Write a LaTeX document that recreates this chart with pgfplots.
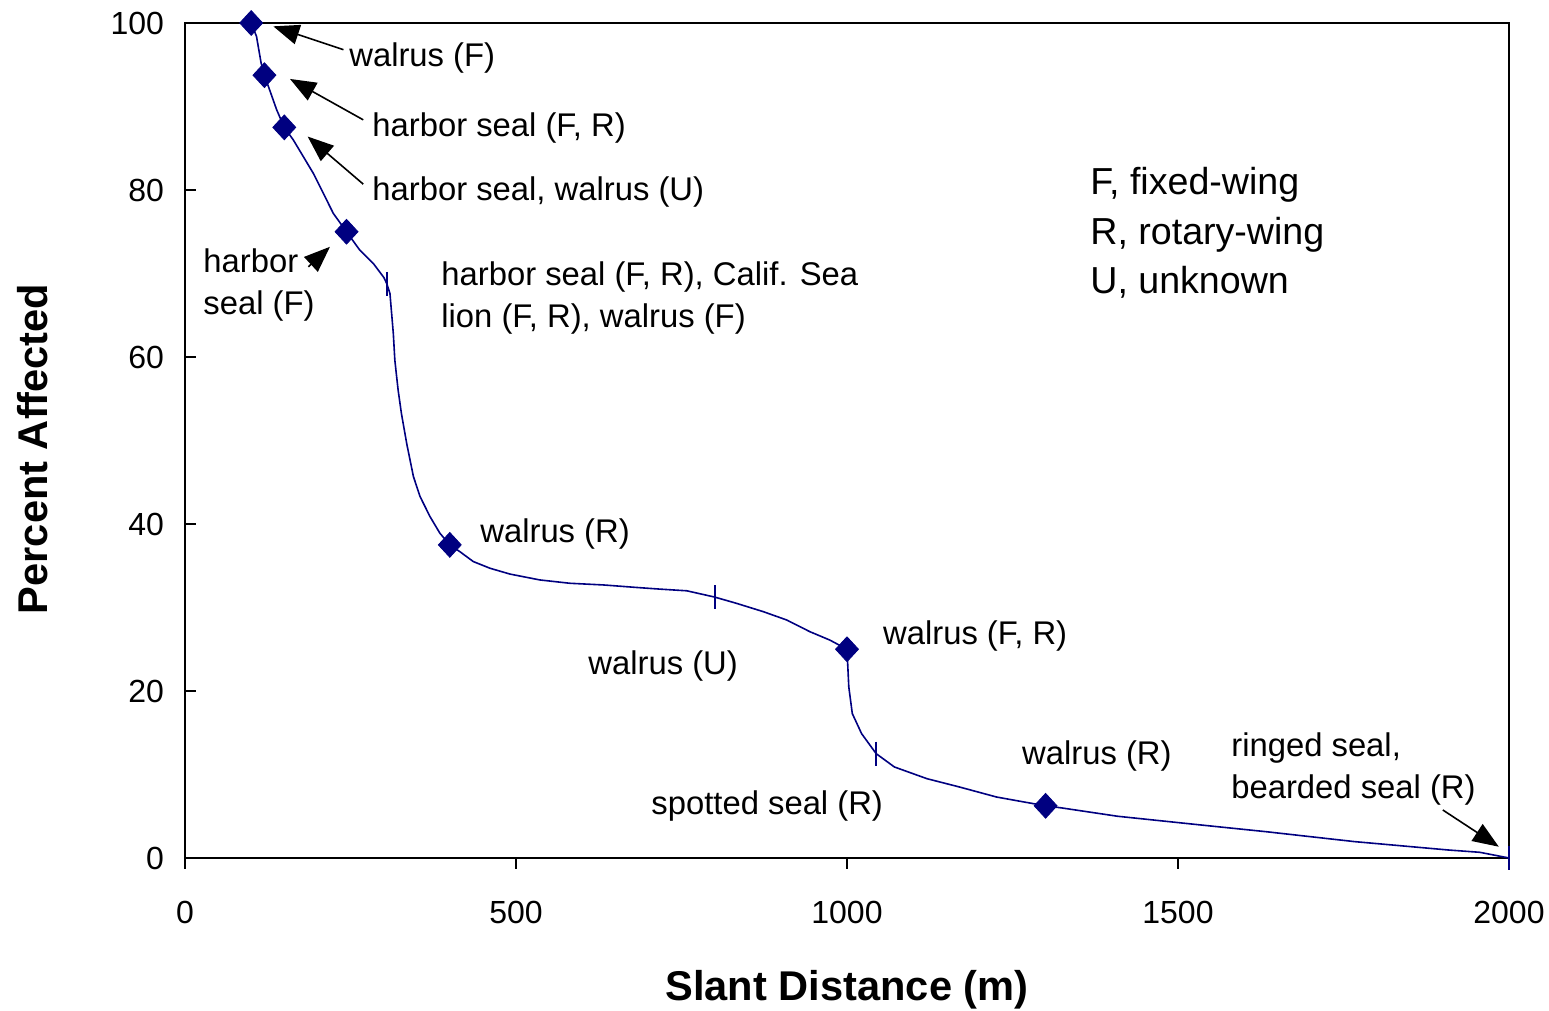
\documentclass[border=0pt]{standalone}
\usepackage{pgfplots}
\pgfplotsset{compat=1.18}
\usepackage{fontspec}
\setmainfont{Liberation Sans}
\usetikzlibrary{arrows.meta}
\definecolor{navy}{HTML}{000080}

\begin{document}
\begin{tikzpicture}[
  ann/.style={font=\fontsize{16.4}{21}\selectfont, anchor=west, align=left, inner sep=0pt, yshift=-1.5pt},
  arr/.style={draw=black, line width=0.8pt, -{Triangle[length=13pt,width=10pt]}},
]
\begin{axis}[
  scale only axis, width=662pt, height=417.5pt,
  xmin=0, xmax=2000, ymin=0, ymax=100,
  xtick={0,500,...,2000}, ytick={0,20,...,100},
  xtick pos=left, ytick pos=left,
  xtick align=outside, ytick align=inside,
  major tick length=5.5pt,
  axis line style={line width=1pt},
  every tick/.style={black, line width=1pt},
  tick label style={font=\fontsize{16}{19}\selectfont},
  /pgf/number format/assume math mode=true,
  /pgf/number format/1000 sep={},
  xticklabel style={yshift=-12.5pt},
  yticklabel style={xshift=-7pt},
  xlabel={Slant Distance (m)}, ylabel={Percent Affected},
  label style={font=\fontsize{20.8}{24}\selectfont\bfseries},
  xlabel style={at={(axis description cs:0.5,-0.158)}, anchor=center},
  ylabel style={at={(axis description cs:-0.115,0.49)}, anchor=center},
  clip=false,
]
% fitted curve
\addplot[navy, line width=0.8pt, no marks] coordinates {
(100,100) (108,98.4) (115,95.2) (120,93.75) (126,92.4) (138.5,89.6) (150,87.5)
(163.6,86) (193.8,82) (209,79.6) (224,77.2) (244,75) (264,72.8) (284.5,71.2)
(300.6,69.5) (305,68.75) (309.6,67.6) (314.7,62.8) (317,59.6) (322,56) (327,53.2)
(335,49.6) (345,45.7) (355,43.3) (370,40.9) (385,38.9) (400,37.5) (415,36.7)
(435.5,35.5) (460.7,34.7) (491,34) (536,33.3) (581.6,32.9) (632,32.7) (682,32.4)
(717.5,32.2) (758,32) (800,31.25) (833,30.5) (873.6,29.5) (909,28.5) (944,27.1)
(974,26.1) (1000,25) (1002.7,20.5) (1008,17.3) (1022,14.9) (1044,12.5)
(1071.6,10.9) (1120.7,9.5) (1170,8.5) (1226,7.3) (1268,6.7) (1300,6.25)
(1324,6.0) (1408.6,5.0) (1535,3.95) (1633,3.15) (1766.8,1.96) (1908,0.96)
(1956,0.68) (2000,0)
};
% observations
\addplot[only marks, mark=diamond*, mark size=6.2pt, navy,
  mark options={xscale=1.23}] coordinates {
(100,100) (120,93.75) (150,87.5) (244,75) (400,37.5) (1000,25) (1300,6.25)
};
\addplot[only marks, mark=|, mark size=6pt, navy, mark options={line width=0.9pt}]
  coordinates {(305,68.75) (800,31.25) (1044,12.5) (2000,0)};

% annotations
\node[ann] at (axis cs:247.7,96.2) {walrus (F)};
\node[ann] at (axis cs:282.5,87.8) {harbor seal (F, R)};
\node[ann] at (axis cs:282.5,80.1) {harbor seal, walrus (U)};
\node[ann] at (axis cs:27.2,69) {harbor\\seal (F)};
\node[ann] at (axis cs:386.7,67.4) {harbor seal (F, R), Calif. Sea\\lion (F, R), walrus (F)};
\node[ann] at (axis cs:445.6,39.2) {walrus (R)};
\node[ann] at (axis cs:608.8,23.4) {walrus (U)};
\node[ann] at (axis cs:1054,26.9) {walrus (F, R)};
\node[ann] at (axis cs:704,6.6) {spotted seal (R)};
\node[ann] at (axis cs:1264,12.6) {walrus (R)};
\node[ann] at (axis cs:1580,11.0) {ringed seal,\\bearded seal (R)};
\node[ann, font=\fontsize{18.8}{24.75}\selectfont] at (axis cs:1367,75.2)
  {F, fixed-wing\\R, rotary-wing\\U, unknown};

\draw[arr] (axis cs:239.4,96.8) -- (axis cs:133.4,99.6);
\draw[arr] (axis cs:269.3,88.4) -- (axis cs:158.6,93.3);
\draw[arr] (axis cs:269.3,80.7) -- (axis cs:185.3,86.4);
\draw[arr] (axis cs:186.3,70.8) -- (axis cs:219,73.2);
\draw[arr] (axis cs:1900,5.75) -- (axis cs:1984.6,1.35);
\end{axis}
\pgfresetboundingbox
\path (-92.5pt,-76.5pt) rectangle (682pt,429pt);
\end{tikzpicture}
\end{document}
